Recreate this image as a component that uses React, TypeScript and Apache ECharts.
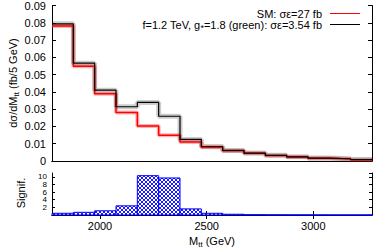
import React, { useEffect, useRef } from "react";
import * as echarts from "echarts";

// Histogram bins (GeV): lower edges, width 100
const binLow = [1775, 1875, 1975, 2075, 2175, 2275, 2375, 2475, 2575, 2675, 2775, 2875, 2975, 3075, 3175];
const binWidth = 100;
const xMin = 1775;
const xMax = 3275;

// dσ/dM_tt (fb / 5 GeV)
const smValues = [0.0781, 0.0549, 0.0389, 0.028, 0.0202, 0.0149, 0.011, 0.0079, 0.0059, 0.0045, 0.0032, 0.0023, 0.0016, 0.0012, 0.0007];
const bsmValues = [0.0794, 0.0566, 0.041, 0.0314, 0.0339, 0.0259, 0.0125, 0.0084, 0.0061, 0.0046, 0.0033, 0.0024, 0.0017, 0.0013, 0.0008];

// Significance per bin
const signifValues = [0.45, 0.7, 1.1, 2.4, 10.3, 9.7, 1.6, 0.45, 0.2, 0.08, 0.05, 0.04, 0.03, 0.02, 0.02];

const topYMax = 0.09;
const topYStep = 0.01;
const signifMax = 11;
const signifStep = 2;
const xTickValues = [2000, 2500, 3000];

const FONT = "'Liberation Sans', Arial, Helvetica, sans-serif";

type Seg = { t: string; size: number; dy: number };

const smLegend: Seg[] = [{ t: "SM: σε=27 fb", size: 11, dy: 0 }];
const bsmLegend: Seg[] = [
  { t: "f=1.2 TeV, g", size: 11, dy: 0 },
  { t: "*", size: 9, dy: 3 },
  { t: "=1.8 (green): σε=3.54 fb", size: 11, dy: 0 },
];
const yTitle: Seg[] = [
  { t: "dσ/dM", size: 11, dy: 0 },
  { t: "tt", size: 8, dy: 3.5 },
  { t: " (fb/5 GeV)", size: 11, dy: 0 },
];
const xTitle: Seg[] = [
  { t: "M", size: 11, dy: 0 },
  { t: "tt", size: 8, dy: 3.5 },
  { t: " (GeV)", size: 11, dy: 0 },
];
const signifTitle: Seg[] = [{ t: "Signif.", size: 11, dy: 0 }];

function stepPoints(vals: number[]) {
  const pts = binLow.map((x, i) => [x, vals[i]]);
  const last = binLow.length - 1;
  pts.push([binLow[last] + binWidth, vals[last]]);
  return pts;
}

function textRun(
  ctx: CanvasRenderingContext2D,
  segs: Seg[],
  x: number,
  y: number,
  align: "center" | "right",
  rotation = 0
) {
  const widths = segs.map((s) => {
    ctx.font = `${s.size}px ${FONT}`;
    return ctx.measureText(s.t).width;
  });
  const total = widths.reduce((a, b) => a + b, 0);
  let acc = align === "center" ? -total / 2 : -total;
  const children = segs.map((s, i) => {
    const el = {
      type: "text",
      x: acc,
      y: s.dy,
      style: {
        text: s.t,
        fill: "#000",
        font: `${s.size}px ${FONT}`,
        align: "left",
        verticalAlign: "middle",
      },
    };
    acc += widths[i];
    return el;
  });
  return { type: "group", x, y, rotation, children };
}

export default function App() {
  const ref = useRef<HTMLDivElement>(null);
  useEffect(() => {
    if (!ref.current) return;
    const chart = echarts.init(ref.current, null, { renderer: "svg" });

    const canvas = document.createElement("canvas");
    canvas.width = 4;
    canvas.height = 4;
    const pctx = canvas.getContext("2d")!;
    pctx.fillStyle = "#ffffff";
    pctx.fillRect(0, 0, 4, 4);
    pctx.fillStyle = "#1a1aff";
    for (let i = 0; i < 4; i++) {
      pctx.fillRect(i, i, 1, 1);
      pctx.fillRect(3 - i, i, 1, 1);
    }
    const pattern: any = { image: canvas, repeat: "repeat" };

    const mcanvas = document.createElement("canvas");
    const mctx = mcanvas.getContext("2d")!;

    const axisLine = { show: true, lineStyle: { color: "#000", width: 1 } };
    const label = { color: "#000", fontFamily: FONT, fontSize: 11 };

    const option: any = {
      animation: false,
      grid: [
        { left: 52, top: 5, width: 320, height: 156 },
        { left: 52, top: 173, width: 320, height: 42 },
      ],
      xAxis: [
        { gridIndex: 0, type: "value", min: xMin, max: xMax, axisLine, axisTick: { show: false }, axisLabel: { show: false }, splitLine: { show: false } },
        { gridIndex: 0, type: "value", position: "top", min: xMin, max: xMax, axisLine, axisTick: { show: false }, axisLabel: { show: false }, splitLine: { show: false } },
        {
          gridIndex: 1, type: "value", min: xMin, max: xMax, axisLine,
          axisTick: { show: true, inside: true, length: 4, customValues: xTickValues, lineStyle: { color: "#000" } },
          axisLabel: { ...label, margin: 5, customValues: xTickValues, formatter: (v: number) => String(v) },
          splitLine: { show: false },
        },
        {
          gridIndex: 1, type: "value", position: "top", min: xMin, max: xMax, axisLine,
          axisTick: { show: true, inside: true, length: 4, customValues: xTickValues, lineStyle: { color: "#000" } },
          axisLabel: { show: false }, splitLine: { show: false },
        },
      ],
      yAxis: [
        {
          gridIndex: 0, type: "value", min: 0, max: topYMax, interval: topYStep, axisLine,
          axisTick: { show: true, inside: true, length: 4, lineStyle: { color: "#000" } },
          axisLabel: { ...label, margin: 6 }, splitLine: { show: false },
        },
        {
          gridIndex: 0, type: "value", position: "right", min: 0, max: topYMax, interval: topYStep, axisLine,
          axisTick: { show: true, inside: true, length: 4, lineStyle: { color: "#000" } },
          axisLabel: { show: false }, splitLine: { show: false },
        },
        {
          gridIndex: 1, type: "value", min: 0, max: signifMax, interval: signifStep, axisLine,
          axisTick: { show: true, inside: true, length: 3, lineStyle: { color: "#000" } },
          axisLabel: { ...label, fontSize: 8, margin: 5, showMaxLabel: false }, splitLine: { show: false },
        },
        {
          gridIndex: 1, type: "value", position: "right", min: 0, max: signifMax, interval: signifStep, axisLine,
          axisTick: { show: true, inside: true, length: 3, lineStyle: { color: "#000" } },
          axisLabel: { show: false }, splitLine: { show: false },
        },
      ],
      series: [
        {
          type: "line", xAxisIndex: 0, yAxisIndex: 0, step: "end", data: stepPoints(smValues),
          symbol: "none", lineStyle: { color: "rgba(255,40,40,0.35)", width: 4 }, z: 1,
        },
        {
          type: "line", xAxisIndex: 0, yAxisIndex: 0, step: "end", data: stepPoints(bsmValues),
          symbol: "none", lineStyle: { color: "rgba(0,0,0,0.2)", width: 5 }, z: 2,
        },
        {
          type: "line", xAxisIndex: 0, yAxisIndex: 0, step: "end", data: stepPoints(smValues),
          symbol: "none", lineStyle: { color: "#ff0000", width: 1.5 }, z: 3,
        },
        {
          type: "line", xAxisIndex: 0, yAxisIndex: 0, step: "end", data: stepPoints(bsmValues),
          symbol: "none", lineStyle: { color: "#000000", width: 1.2 }, z: 4,
        },
        {
          type: "custom", xAxisIndex: 2, yAxisIndex: 2,
          data: binLow.map((x, i) => [x, x + binWidth, signifValues[i]]),
          encode: { x: [0, 1], y: 2 },
          renderItem: (params: any, api: any) => {
            const p0 = api.coord([api.value(0), api.value(2)]);
            const p1 = api.coord([api.value(1), 0]);
            return {
              type: "rect",
              shape: { x: p0[0], y: p0[1], width: p1[0] - p0[0], height: p1[1] - p0[1] },
              style: { fill: pattern, stroke: "#0000ff", lineWidth: 1 },
            };
          },
          z: 3,
        },
      ],
      graphic: [
        textRun(mctx, smLegend, 322, 13.5, "right"),
        { type: "line", shape: { x1: 330, y1: 13.5, x2: 360, y2: 13.5 }, style: { stroke: "#ff0000", lineWidth: 1 } },
        textRun(mctx, bsmLegend, 322, 24.5, "right"),
        { type: "line", shape: { x1: 330, y1: 24.5, x2: 360, y2: 24.5 }, style: { stroke: "#000000", lineWidth: 1 } },
        textRun(mctx, yTitle, 12.5, 83, "center", Math.PI / 2),
        textRun(mctx, signifTitle, 20.5, 193, "center", Math.PI / 2),
        textRun(mctx, xTitle, 212, 241, "center"),
      ],
    };
    chart.setOption(option);
    return () => chart.dispose();
  }, []);
  return (
    <div
      ref={ref}
      style={{ position: "fixed", left: 0, top: 0, width: 374, height: 249, background: "#fff" }}
    />
  );
}
